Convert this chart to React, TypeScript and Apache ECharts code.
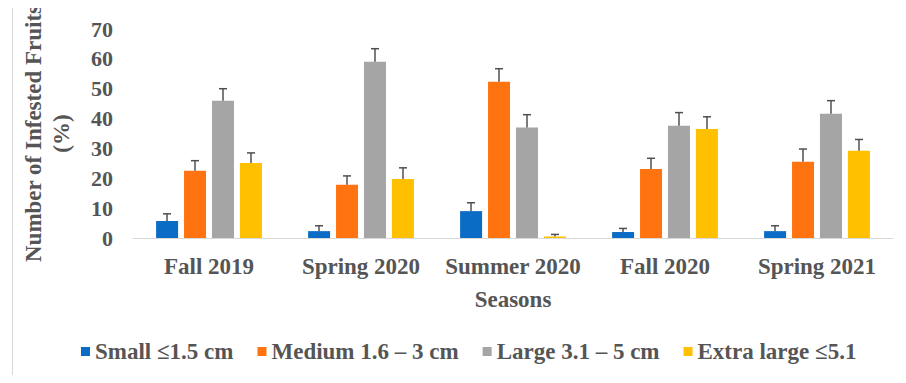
import React, { useEffect, useRef } from "react";
import * as echarts from "echarts";

const categories = ["Fall 2019", "Spring 2020", "Summer 2020", "Fall 2020", "Spring 2021"];
const seriesNames = ["Small ≤1.5 cm", "Medium 1.6 – 3 cm", "Large 3.1 – 5 cm", "Extra large ≤5.1"];
const smallVals = [5.7, 2.3, 9.0, 2.0, 2.3];
const mediumVals = [22.5, 17.8, 52.3, 23.1, 25.5];
const largeVals = [46.0, 59.0, 37.0, 37.6, 41.6];
const xlargeVals = [25.1, 19.8, 0.5, 36.5, 29.2];
const smallErr = [2.4, 1.8, 2.8, 1.2, 1.8];
const mediumErr = [3.4, 3.0, 4.4, 3.6, 4.3];
const largeErr = [4.0, 4.4, 4.3, 4.4, 4.4];
const xlargeErr = [3.4, 3.7, 0.7, 4.1, 3.8];
const yTicks = { min: 0, max: 70, interval: 10 };

const colors = ["#0A6CC4", "#FF7410", "#A5A5A5", "#FFC000"];
const FONT = "'Liberation Serif', 'Times New Roman', serif";
const TEXT = "#555555";
const BAR_W = 22;
const BAR_STEP = 28;

export default function App() {
  const ref = useRef<HTMLDivElement>(null);
  useEffect(() => {
    if (!ref.current) return;
    const chart = echarts.init(ref.current, undefined, { renderer: "svg" });
    const vals = [smallVals, mediumVals, largeVals, xlargeVals];
    const errs = [smallErr, mediumErr, largeErr, xlargeErr];
    const barSeries = vals.map((v, i) => ({
      name: seriesNames[i],
      type: "bar",
      data: v,
      barWidth: BAR_W,
      barGap: "27%",
      itemStyle: { color: colors[i] },
    }));
    const errSeries = vals.map((v, i) => ({
      type: "custom",
      name: "err" + i,
      silent: true,
      z: 5,
      data: v.map((val, j) => [j, val, val + errs[i][j]]),
      renderItem: (params: any, api: any) => {
        const c = api.value(0);
        const lo = api.coord([c, api.value(1)]);
        const hi = api.coord([c, api.value(2)]);
        const x = lo[0] + (-1.5 + i) * BAR_STEP;
        return {
          type: "group",
          children: [
            { type: "line", shape: { x1: x, y1: lo[1], x2: x, y2: hi[1] }, style: { stroke: "#505050", lineWidth: 1.5 } },
            { type: "line", shape: { x1: x - 4, y1: hi[1], x2: x + 4, y2: hi[1] }, style: { stroke: "#505050", lineWidth: 1.5 } },
          ],
        };
      },
    }));
    chart.setOption({
      animation: false,
      backgroundColor: "#ffffff",
      textStyle: { fontFamily: FONT },
      graphic: [
        {
          type: "rect",
          shape: { x: 12.5, y: 6.5, width: 888, height: 375 },
          style: { fill: "none", stroke: "#D9D9D9", lineWidth: 1 },
          silent: true,
        },
      ],
      grid: { left: 133, right: 13, top: 29, bottom: 145, containLabel: false },
      legend: {
        data: seriesNames,
        bottom: 15,
        left: 76,
        icon: "rect",
        itemWidth: 9,
        itemHeight: 9,
        itemGap: 24,
        textStyle: { fontFamily: FONT, fontWeight: "bold", fontSize: 23, color: TEXT },
      },
      xAxis: {
        type: "category",
        data: categories,
        name: "Seasons",
        nameLocation: "middle",
        nameGap: 50,
        nameTextStyle: { fontFamily: FONT, fontWeight: "bold", fontSize: 23, color: TEXT },
        axisLine: { lineStyle: { color: "#D9D9D9", width: 1 } },
        axisTick: { show: false },
        axisLabel: { interval: 0, margin: 17, fontFamily: FONT, fontWeight: "bold", fontSize: 23, color: TEXT },
      },
      yAxis: {
        type: "value",
        min: yTicks.min,
        max: yTicks.max,
        interval: yTicks.interval,
        name: "Number of Infested Fruits\n(%)",
        nameLocation: "middle",
        nameRotate: 90,
        nameGap: 58,
        nameTextStyle: { fontFamily: FONT, fontWeight: "bold", fontSize: 23, color: TEXT, lineHeight: 28 },
        splitLine: { show: false },
        axisLine: { show: false },
        axisTick: { show: false },
        axisLabel: { margin: 20, fontFamily: FONT, fontWeight: "bold", fontSize: 22, color: TEXT },
      },
      series: [...barSeries, ...errSeries],
    });
    return () => chart.dispose();
  }, []);
  return <div ref={ref} style={{ width: 906, height: 383, margin: -8 }} />;
}
